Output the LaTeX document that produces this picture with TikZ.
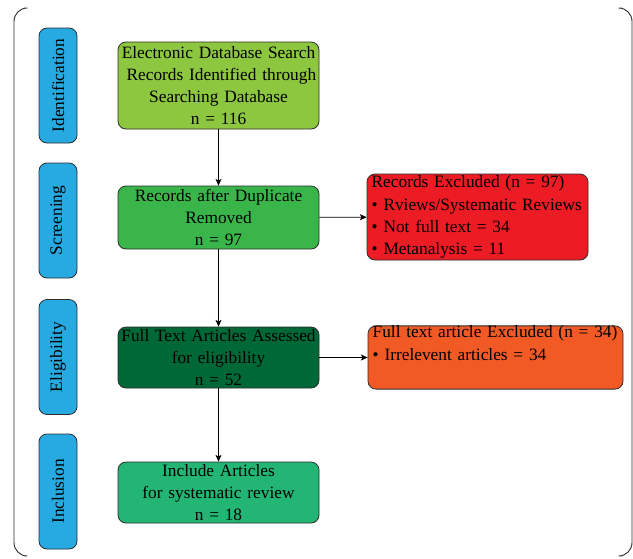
\documentclass[tikz,border=0pt]{standalone}
\usepackage{fontspec}
\setmainfont{Liberation Serif}
\usepackage{xcolor}
\usepackage{tikz}
\usetikzlibrary{arrows.meta, positioning}
\definecolor{PRStage}{RGB}{39, 170, 225}
\definecolor{PRIdent}{RGB}{141, 198, 63}
\definecolor{PRScreen}{RGB}{57, 181, 74}
\definecolor{PREligible}{RGB}{0, 104, 55}
\definecolor{PRInclude}{RGB}{34, 181, 115}
\definecolor{PRExclRed}{RGB}{237, 28, 36}
\definecolor{PRExclOrange}{RGB}{241, 90, 36}
\definecolor{PRBorder}{RGB}{45, 45, 45}

\begin{document}
\begin{tikzpicture}[x=0.75pt, y=-0.75pt,
    every node/.style={font=\fontsize{13}{16.7}\selectfont, inner sep=0pt},
    stagebox/.style={rounded corners=6pt, fill=PRStage, draw=PRBorder, line width=0.6pt,
          minimum width=28.5pt, minimum height=86.25pt},
    mainbox/.style={rounded corners=6pt, draw=PRBorder, line width=0.6pt,
          minimum width=150.75pt, text width=150pt, align=center},
    exclbox/.style={rounded corners=6pt, draw=PRBorder, line width=0.6pt,
          inner xsep=3.5pt, align=left},
    flow/.style={-{Stealth[length=5pt, width=4.5pt, inset=1.2pt]}, line width=0.5pt}]
    \useasboundingbox (0,0) rectangle (633,558);

    % outer frame
    \draw[PRBorder, line width=0.7pt, rounded corners=10] (24,8) -- (14,8) -- (14,556) -- (24,556);
    \draw[PRBorder, line width=0.7pt, rounded corners=10] (622,8) -- (632,8) -- (632,556) -- (622,556);

    % phases
    \node[stagebox] (ident) at (58,85.5) {\rotatebox{90}{Identification}};
    \node[stagebox] (screen) at (58,220.5) {\rotatebox{90}{Screening}};
    \node[stagebox] (elig) at (58,357) {\rotatebox{90}{Eligibility}};
    \node[stagebox] (incl) at (58,491.5) {\rotatebox{90}{Inclusion}};

    % main flow
    \node[mainbox, fill=PRIdent, minimum height=65.25pt] (search) at (218.5,85.5) {
      Electronic Database Search\\
      \ Records Identified through\\
      Searching Database\\
      n = 116\hspace*{16pt}};
    \node[mainbox, fill=PRScreen, minimum height=47.25pt] (dupl) at (218.5,217.5) {
      Records after Duplicate\\
      Removed\\
      n = 97};
    \node[mainbox, fill=PREligible, minimum height=45.75pt] (fulltext) at (218.5,357.5) {
      Full Text Articles Assessed\\
      for eligibility\\
      n = 52};
    \node[mainbox, fill=PRInclude, minimum height=45.75pt] (included) at (218.5,492.5) {
      Include Articles\\
      for systematic review\\
      n = 18};

    % exclusions
    \node[exclbox, fill=PRExclRed, minimum height=64.5pt,
          text width=158.75pt] (excl1) at (477.5,217) {
      \mbox{Records Excluded (n = 97)}\\
      \mbox{\textbullet{} Rviews/Systematic Reviews}\\
      \mbox{\textbullet{} Not full text = 34}\\
      \mbox{\textbullet{} Metanalysis = 11}};
    \node[exclbox, fill=PRExclOrange, minimum height=45.75pt,
          text width=184.25pt] (excl2) at (495.5,357.5) {
      \mbox{Full text article Excluded (n = 34)}\\
      \mbox{\textbullet{} Irrelevent articles = 34}\\
      \strut};

    % connectors
    \draw[flow] (search) -- (dupl);
    \draw[flow] (dupl) -- (fulltext);
    \draw[flow] (fulltext) -- (included);
    \draw[flow] (dupl) -- (excl1);
    \draw[flow] (fulltext) -- (excl2);
  \end{tikzpicture}
\end{document}
